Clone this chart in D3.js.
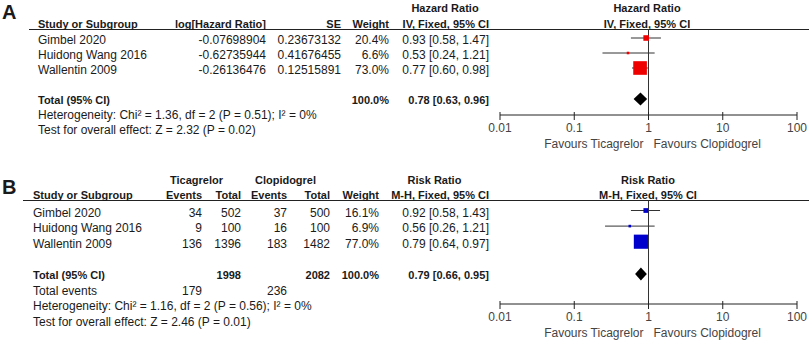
<!DOCTYPE html>
<html>
<head>
<meta charset="utf-8">
<script src="https://cdn.jsdelivr.net/npm/d3@7"></script>
<style>
  body { margin: 0; background: #fff; }
  svg text { font-family: "Liberation Sans", Arial, sans-serif; font-size: 12px; fill: #1a1a1a; }
  .bold { font-weight: bold; font-size: 11px; }
  .soft { fill: #444; }
</style>
</head>
<body>
<div id="chart"></div>
<script>
// ---- data ----
const studies = ['Gimbel 2020', 'Huidong Wang 2016', 'Wallentin 2009'];

// panel A: hazard ratio (IV, fixed)
const hrLog    = [-0.07698904, -0.62735944, -0.26136476];
const hrSE     = [0.23673132, 0.41676455, 0.12515891];
const hrWeight = [20.4, 6.6, 73.0];
const hrEst    = [0.93, 0.53, 0.77];
const hrLow    = [0.58, 0.24, 0.60];
const hrHigh   = [1.47, 1.21, 0.98];
const hrTotal  = [0.78, 0.63, 0.96];
const hrHet    = 'Heterogeneity: Chi\u00b2 = 1.36, df = 2 (P = 0.51); I\u00b2 = 0%';
const hrTest   = 'Test for overall effect: Z = 2.32 (P = 0.02)';

// panel B: risk ratio (M-H, fixed)
const ticEvents  = [34, 9, 136];
const ticTotal   = [502, 100, 1396];
const clopEvents = [37, 16, 183];
const clopTotal  = [500, 100, 1482];
const rrWeight   = [16.1, 6.9, 77.0];
const rrEst      = [0.92, 0.56, 0.79];
const rrLow      = [0.58, 0.26, 0.64];
const rrHigh     = [1.43, 1.21, 0.97];
const rrTotal    = [0.79, 0.66, 0.95];
const rrSums     = [1998, 2082];
const rrEventSum = [179, 236];
const rrHet      = 'Heterogeneity: Chi\u00b2 = 1.16, df = 2 (P = 0.56); I\u00b2 = 0%';
const rrTest     = 'Test for overall effect: Z = 2.46 (P = 0.01)';

const axisTicks = [0.01, 0.1, 1, 10, 100];

const W = 809, H = 345;
const svg = d3.select('#chart').append('svg')
  .attr('width', W).attr('height', H);

const x = d3.scaleLog().domain([0.01, 100]).range([500, 797]);
const boxSize = d3.scalePow().exponent(0.7).domain([0, 100]).range([0, 17]);
const loc = d3.formatLocale({ decimal: '.', thousands: ',', grouping: [3], currency: ['', ''], minus: '-' });
const f2 = loc.format('.2f');
const f8 = loc.format('.8f');
const pct = loc.format('.1f');
const ciText = (e, l, h) => `${f2(e)} [${f2(l)}, ${f2(h)}]`;

function txt(g, str, px, py, anchor, cls) {
  return g.append('text')
    .attr('x', px).attr('y', py)
    .attr('text-anchor', anchor || 'start')
    .attr('class', cls || null)
    .text(str);
}

function forest(g, cfg) {
  const row = d3.scaleLinear().domain([0, 1]).range([cfg.top, cfg.top + cfg.step]);
  const base = i => row(i) + 4;

  // panel letter
  g.append('text').attr('x', 2).attr('y', cfg.letterY)
    .style('font-size', '20px').style('font-weight', 'bold').attr('fill', '#000')
    .text(cfg.letter);

  // header rule
  g.append('line')
    .attr('x1', cfg.ruleX).attr('x2', W)
    .attr('y1', cfg.ruleY).attr('y2', cfg.ruleY)
    .attr('stroke', '#222').attr('stroke-width', 1);

  // header text
  cfg.headers.forEach(h => txt(g, h.t, h.x, h.y, h.a, 'bold'));

  // table rows
  studies.forEach((s, i) => {
    txt(g, s, cfg.labelX, base(i));
    cfg.cols.forEach(c => txt(g, c.fmt(i), c.x, base(i), 'end'));
    txt(g, ciText(cfg.est[i], cfg.low[i], cfg.high[i]), 489, base(i), 'end');
  });

  // total row
  txt(g, 'Total (95% CI)', cfg.labelX, base(4), 'start', 'bold');
  cfg.totalCols.forEach(c => txt(g, c.t, c.x, base(4), 'end', 'bold'));
  txt(g, ciText(cfg.total[0], cfg.total[1], cfg.total[2]), 489, base(4), 'end', 'bold');

  let r = 5;
  if (cfg.events) {
    txt(g, 'Total events', cfg.labelX, base(r));
    cfg.events.forEach(c => txt(g, c.t, c.x, base(r), 'end'));
    r++;
  }
  txt(g, cfg.het, cfg.labelX, base(r));
  txt(g, cfg.test, cfg.labelX, base(r + 1));

  // line of no effect
  g.append('line')
    .attr('x1', x(1)).attr('x2', x(1))
    .attr('y1', cfg.ruleY).attr('y2', cfg.axisY)
    .attr('stroke', '#333');

  // CI whiskers
  g.selectAll('line.ci').data(studies).enter().append('line')
    .attr('class', 'ci')
    .attr('x1', (d, i) => x(cfg.low[i])).attr('x2', (d, i) => x(cfg.high[i]))
    .attr('y1', (d, i) => row(i) - 2).attr('y2', (d, i) => row(i) - 2)
    .attr('stroke', '#333');

  // weighted boxes
  g.selectAll('rect.box').data(studies).enter().append('rect')
    .attr('class', 'box')
    .attr('x', (d, i) => x(cfg.est[i]) - boxSize(cfg.weight[i]) / 2)
    .attr('y', (d, i) => row(i) - 2 - boxSize(cfg.weight[i]) / 2)
    .attr('width', (d, i) => boxSize(cfg.weight[i]))
    .attr('height', (d, i) => boxSize(cfg.weight[i]))
    .attr('fill', cfg.color);

  // pooled diamond
  const dy = row(4) - 1;
  g.append('path')
    .attr('d', `M${x(cfg.total[1])},${dy} L${x(cfg.total[0])},${dy - 6.5} L${x(cfg.total[2])},${dy} L${x(cfg.total[0])},${dy + 6.5} Z`)
    .attr('fill', '#000');

  // log axis
  const ax = g.append('g').attr('transform', `translate(0,${cfg.axisY})`);
  ax.append('line').attr('x1', x(0.01)).attr('x2', x(100)).attr('stroke', '#222');
  ax.selectAll('line.tick').data(axisTicks).enter().append('line')
    .attr('class', 'tick')
    .attr('x1', d => x(d)).attr('x2', d => x(d))
    .attr('y1', -3).attr('y2', 5)
    .attr('stroke', '#222');
  ax.selectAll('text.tl').data(axisTicks).enter().append('text')
    .attr('class', 'tl soft')
    .attr('x', d => x(d)).attr('y', 17)
    .attr('text-anchor', 'middle')
    .text(d => String(d));

  txt(ax, 'Favours Ticagrelor', x(1) - 5, 33, 'end', 'soft');
  txt(ax, 'Favours Clopidogrel', x(1) + 5, 33, 'start', 'soft');
}

// ---- panel A ----
forest(svg.append('g').attr('class', 'panel-a'), {
  letter: 'A', letterY: 19, top: 40, step: 15,
  ruleX: 29, ruleY: 29.5, axisY: 115, labelX: 38,
  headers: [
    { t: 'Hazard Ratio', x: 445, y: 12, a: 'middle' },
    { t: 'Hazard Ratio', x: 647, y: 12, a: 'middle' },
    { t: 'Study or Subgroup', x: 38, y: 28, a: 'start' },
    { t: 'log[Hazard Ratio]', x: 266, y: 28, a: 'end' },
    { t: 'SE', x: 341, y: 28, a: 'end' },
    { t: 'Weight', x: 389, y: 28, a: 'end' },
    { t: 'IV, Fixed, 95% CI', x: 489, y: 28, a: 'end' },
    { t: 'IV, Fixed, 95% CI', x: 647, y: 28, a: 'middle' }
  ],
  cols: [
    { x: 266, fmt: i => f8(hrLog[i]) },
    { x: 341, fmt: i => f8(hrSE[i]) },
    { x: 389, fmt: i => pct(hrWeight[i]) + '%' }
  ],
  totalCols: [{ t: '100.0%', x: 389 }],
  est: hrEst, low: hrLow, high: hrHigh, weight: hrWeight, total: hrTotal,
  het: hrHet, test: hrTest, color: '#ee0000'
});

// ---- panel B ----
forest(svg.append('g').attr('class', 'panel-b'), {
  letter: 'B', letterY: 194, top: 212.5, step: 15.6,
  ruleX: 23, ruleY: 200.5, axisY: 304, labelX: 33,
  headers: [
    { t: 'Ticagrelor', x: 196.5, y: 184, a: 'middle' },
    { t: 'Clopidogrel', x: 285.5, y: 184, a: 'middle' },
    { t: 'Risk Ratio', x: 434.5, y: 184, a: 'middle' },
    { t: 'Risk Ratio', x: 648, y: 184, a: 'middle' },
    { t: 'Study or Subgroup', x: 33, y: 199, a: 'start' },
    { t: 'Events', x: 202, y: 199, a: 'end' },
    { t: 'Total', x: 241, y: 199, a: 'end' },
    { t: 'Events', x: 287, y: 199, a: 'end' },
    { t: 'Total', x: 330, y: 199, a: 'end' },
    { t: 'Weight', x: 379, y: 199, a: 'end' },
    { t: 'M-H, Fixed, 95% CI', x: 489, y: 199, a: 'end' },
    { t: 'M-H, Fixed, 95% CI', x: 648, y: 199, a: 'middle' }
  ],
  cols: [
    { x: 202, fmt: i => ticEvents[i] },
    { x: 241, fmt: i => ticTotal[i] },
    { x: 287, fmt: i => clopEvents[i] },
    { x: 330, fmt: i => clopTotal[i] },
    { x: 379, fmt: i => pct(rrWeight[i]) + '%' }
  ],
  totalCols: [
    { t: rrSums[0], x: 241 },
    { t: rrSums[1], x: 330 },
    { t: '100.0%', x: 379 }
  ],
  events: [
    { t: rrEventSum[0], x: 202 },
    { t: rrEventSum[1], x: 287 }
  ],
  est: rrEst, low: rrLow, high: rrHigh, weight: rrWeight, total: rrTotal,
  het: rrHet, test: rrTest, color: '#0000cc'
});
</script>
</body>
</html>
